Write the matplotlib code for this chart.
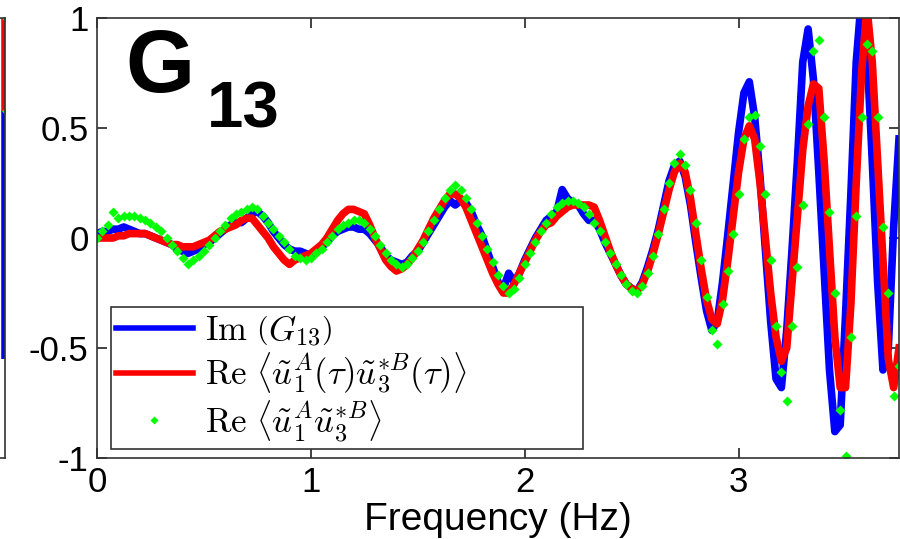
import numpy as np
import matplotlib
matplotlib.use("Agg")
import matplotlib.pyplot as plt

plt.rcParams['font.family'] = ['Liberation Sans', 'DejaVu Sans']
plt.rcParams['mathtext.fontset'] = 'cm'
plt.rcParams['axes.unicode_minus'] = False

# Frequency grid (Hz), 0.025 Hz spacing
freq = np.linspace(0, 3.75, 151)

# Im(G13)
im_g13 = [
    0.02, 0.03, 0.03, 0.04, 0.04, 0.05, 0.04, 0.03, 0.02, 0.02,
    0.01, 0.00, -0.01, -0.02, -0.03, -0.05, -0.06, -0.07, -0.06, -0.05,
    -0.03, -0.02, 0.00, 0.02, 0.04, 0.06, 0.07, 0.07, 0.09, 0.11,
    0.12, 0.10, 0.07, 0.03, 0.00, -0.03, -0.05, -0.06, -0.06, -0.07,
    -0.08, -0.06, -0.04, -0.02, 0.01, 0.03, 0.04, 0.05, 0.05, 0.04,
    0.04, 0.02, -0.01, -0.04, -0.08, -0.10, -0.11, -0.12, -0.11, -0.08,
    -0.06, -0.02, 0.02, 0.06, 0.10, 0.14, 0.17, 0.15, 0.17, 0.16,
    0.12, 0.06, 0.01, -0.06, -0.13, -0.20, -0.23, -0.16, -0.20, -0.16,
    -0.10, -0.05, 0.00, 0.04, 0.08, 0.10, 0.12, 0.22, 0.18, 0.16,
    0.15, 0.11, 0.08, 0.08, 0.04, -0.02, -0.07, -0.12, -0.17, -0.21,
    -0.23, -0.24, -0.20, -0.13, -0.05, 0.04, 0.15, 0.26, 0.33, 0.35,
    0.28, 0.15, -0.02, -0.18, -0.33, -0.42, -0.38, -0.20, 0.02, 0.25,
    0.48, 0.66, 0.71, 0.55, 0.28, -0.05, -0.38, -0.64, -0.68, -0.42,
    -0.05, 0.35, 0.80, 0.95, 0.72, 0.30, -0.15, -0.60, -0.88, -0.85,
    -0.35, 0.20, 0.80, 1.10, 0.85, 0.35, -0.20, -0.60, -0.50, 0.05,
    0.45,
]

# Re <u1A(tau) u3*B(tau)>
re_tau = [
    0.00, 0.00, 0.00, 0.00, 0.01, 0.01, 0.02, 0.02, 0.02, 0.02,
    0.01, 0.00, -0.01, -0.02, -0.03, -0.03, -0.04, -0.04, -0.04, -0.03,
    -0.02, -0.01, 0.01, 0.03, 0.04, 0.05, 0.06, 0.08, 0.09, 0.09,
    0.06, 0.03, 0.00, -0.04, -0.07, -0.10, -0.12, -0.10, -0.09, -0.08,
    -0.07, -0.05, -0.03, 0.00, 0.04, 0.08, 0.11, 0.13, 0.13, 0.12,
    0.11, 0.06, 0.00, -0.05, -0.10, -0.13, -0.15, -0.14, -0.12, -0.09,
    -0.05, -0.01, 0.04, 0.09, 0.13, 0.17, 0.20, 0.20, 0.18, 0.14,
    0.08, 0.02, -0.04, -0.10, -0.16, -0.21, -0.25, -0.25, -0.21, -0.16,
    -0.11, -0.06, -0.01, 0.03, 0.06, 0.07, 0.10, 0.12, 0.14, 0.15,
    0.15, 0.15, 0.15, 0.14, 0.08, 0.01, -0.06, -0.12, -0.17, -0.21,
    -0.23, -0.24, -0.21, -0.15, -0.07, 0.02, 0.12, 0.22, 0.30, 0.34,
    0.30, 0.18, 0.02, -0.14, -0.28, -0.37, -0.39, -0.28, -0.10, 0.10,
    0.30, 0.45, 0.51, 0.45, 0.25, 0.00, -0.25, -0.45, -0.56, -0.50,
    -0.20, 0.10, 0.40, 0.60, 0.70, 0.68, 0.35, -0.05, -0.45, -0.68,
    -0.68, -0.30, 0.25, 0.75, 1.05, 0.80, 0.35, -0.10, -0.55, -0.68,
    -0.50,
]

# Re <u1A u3*B>
re_direct = [
    0.00, 0.03, 0.06, 0.12, 0.09, 0.10, 0.10, 0.10, 0.09, 0.08,
    0.07, 0.05, 0.03, 0.00, -0.03, -0.06, -0.09, -0.12, -0.10, -0.08,
    -0.06, -0.03, 0.00, 0.03, 0.06, 0.09, 0.11, 0.12, 0.13, 0.14,
    0.13, 0.10, 0.07, 0.04, 0.01, -0.02, -0.05, -0.08, -0.09, -0.10,
    -0.09, -0.07, -0.05, -0.02, 0.01, 0.04, 0.06, 0.07, 0.08, 0.08,
    0.07, 0.04, 0.01, -0.03, -0.07, -0.10, -0.12, -0.13, -0.12, -0.09,
    -0.06, -0.02, 0.03, 0.08, 0.13, 0.18, 0.22, 0.24, 0.22, 0.18,
    0.13, 0.07, 0.01, -0.05, -0.11, -0.17, -0.22, -0.25, -0.23, -0.18,
    -0.12, -0.07, -0.02, 0.03, 0.07, 0.11, 0.14, 0.16, 0.17, 0.17,
    0.16, 0.14, 0.11, 0.07, 0.03, -0.02, -0.07, -0.12, -0.17, -0.21,
    -0.24, -0.25, -0.22, -0.16, -0.08, 0.02, 0.13, 0.25, 0.34, 0.38,
    0.33, 0.22, 0.07, -0.10, -0.27, -0.42, -0.48, -0.30, -0.15, 0.02,
    0.20, 0.45, 0.55, 0.56, 0.42, 0.20, -0.10, -0.40, -0.61, -0.74,
    -0.40, -0.13, 0.15, 0.52, 0.85, 0.90, 0.55, 0.12, -0.25, -0.78,
    -0.99, -0.45, 0.10, 0.55, 0.88, 0.85, 0.55, 0.05, -0.25, -0.72,
    -0.58,
]

xticks = [0, 1, 2, 3]
yticks = [-1, -0.5, 0, 0.5, 1]
ytick_labels = ['-1', '-0.5', '0', '0.5', '1']

legend_labels = [
    r'$\mathrm{Im}\ \left(G_{13}\right)$',
    r'$\mathrm{Re}\ \left\langle \tilde{u}_1^A(\tau)\tilde{u}_3^{*B}(\tau)\right\rangle$',
    r'$\mathrm{Re}\ \left\langle \tilde{u}_1^A\tilde{u}_3^{*B}\right\rangle$',
]

# tail end of the neighbouring panel on the left
prev_x = [0.97, 0.97]
prev_red = [1.0, 0.58]
prev_blue = [0.58, -0.55]

fig = plt.figure(figsize=(9, 5.39), dpi=100)

axp = fig.add_axes([-0.05, 0.150, 0.056, 0.816])
axp.plot(prev_x, prev_red, color='#ff0000', lw=4, solid_capstyle='butt')
axp.plot(prev_x, prev_blue, color='#0000ff', lw=4, solid_capstyle='butt')
axp.plot([0.99, 0.99], [1.0, 0.58], 'D', color='#00ff00', ms=3.5, mec='none')
axp.set_xlim(0, 1)
axp.set_ylim(-1, 1)
axp.set_xticks([])
axp.set_yticks([])
for s in axp.spines.values():
    s.set_color('#333333')
    s.set_linewidth(1.2)

ax = fig.add_axes([97 / 900, 81 / 539, 802 / 900, 440 / 539])
ax.plot(freq, im_g13, color='#0000ff', lw=5.5, label=legend_labels[0])
ax.plot(freq, re_tau, color='#ff0000', lw=5.5, label=legend_labels[1])
ax.plot(freq, re_direct, linestyle='none', marker='D', color='#00ff00',
        ms=5.5, mec='none', label=legend_labels[2])

ax.set_xlim(0, 3.75)
ax.set_ylim(-1, 1)
ax.set_xticks(xticks)
ax.set_xticklabels([str(t) for t in xticks])
ax.set_yticks(yticks)
ax.set_yticklabels(ytick_labels)
ax.tick_params(direction='in', length=7, width=1.2, top=True, right=True,
               labelsize=25, colors='#222222', pad=6)
ax.tick_params(axis='x', labelcolor='black')
ax.tick_params(axis='y', labelcolor='black')
for s in ax.spines.values():
    s.set_color('#333333')
    s.set_linewidth(1.2)

ax.set_xlabel('Frequency (Hz)', fontsize=28, labelpad=2)

ax.text(0.035, 0.832, 'G', transform=ax.transAxes, fontsize=64,
        fontweight='bold', va='baseline', ha='left')
ax.text(0.137, 0.752, '13', transform=ax.transAxes, fontsize=47,
        fontweight='bold', va='baseline', ha='left')

leg = ax.legend(loc='lower left',
                bbox_to_anchor=(14 / 802, 9 / 440, 472 / 802, 147 / 440),
                mode='expand', borderaxespad=0, fontsize=25,
                handlelength=2.2, numpoints=1, fancybox=False, framealpha=1,
                edgecolor='#333333', labelspacing=0.05, handletextpad=0.35,
                borderpad=0.15, markerscale=0.8)
leg.get_frame().set_linewidth(1.2)
for h in leg.legend_handles[:2]:
    h.set_linewidth(4)

fig.savefig('out.png', dpi=100)
